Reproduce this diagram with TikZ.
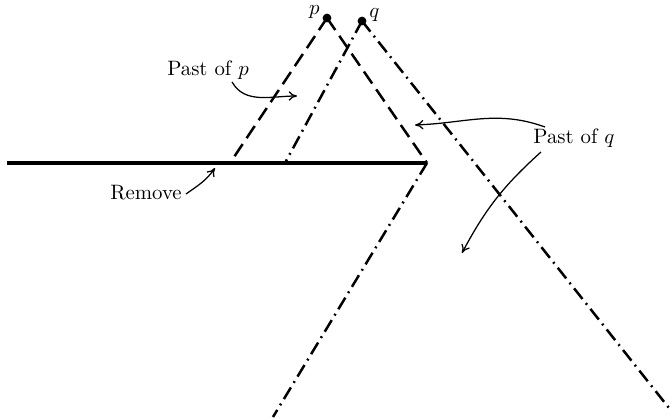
\documentclass[tikz,border=0pt]{standalone}
\usepackage{amsmath,amssymb}
\usepackage{tikz}
\usetikzlibrary{arrows.meta,positioning}

\begin{document}
\begin{tikzpicture}[x=0.48pt,y=0.48pt,>={To[length=4pt,width=4.5pt]},
    event/.style={circle,fill=black,inner sep=0pt,minimum size=4.2pt},
    pcone/.style={line width=1.2pt,dash pattern=on 7pt off 3.4pt},
    qcone/.style={line width=1.2pt,dash pattern=on 6.5pt off 2.6pt on 0.9pt off 2.6pt},
    slice/.style={line width=1.6pt},
    pointer/.style={->,line width=0.6pt}]
  \useasboundingbox (0,0) rectangle (670,418);
  \node[event] (p) at (327,400) {};
  \node[event] (q) at (362,397) {};
  \node[left=0pt of p,yshift=3pt,inner sep=1pt] (plab) {$p$};
  \node[right=0pt of q,yshift=3pt,inner sep=1pt] (qlab) {$q$};
  \coordinate (sl) at (7,255);
  \coordinate (sr) at (427,255);
  \coordinate (pl) at (230,255);
  \coordinate (ql) at (285,255);
  \coordinate (bl) at (273,1);
  \coordinate (br) at (669,10);
  \draw[slice] (sl) -- (sr);
  \draw[pcone] (p.center) -- (pl);
  \draw[pcone] (p.center) -- (sr);
  \draw[qcone] (q.center) -- (ql);
  \draw[qcone] (q.center) -- (br);
  \draw[qcone] (sr) -- (bl);
  \node (pastp) at (208,348) {Past of $p$};
  \node (pastq) at (574,280) {Past of $q$};
  \node (remove) at (146,225) {Remove};
  \coordinate (pp) at (297,322);
  \coordinate (qa) at (415,293);
  \coordinate (qb) at (462,165);
  \coordinate (rm) at (215,250);
  \draw[pointer] (232,336) to[out=-60,in=180] (pp);
  \draw[pointer] (545,291) to[out=160,in=2] (qa);
  \draw[pointer] (541,266) to[out=222,in=62] (qb);
  \draw[pointer] (186,224) to[out=35,in=235] (rm);
\end{tikzpicture}
\end{document}
